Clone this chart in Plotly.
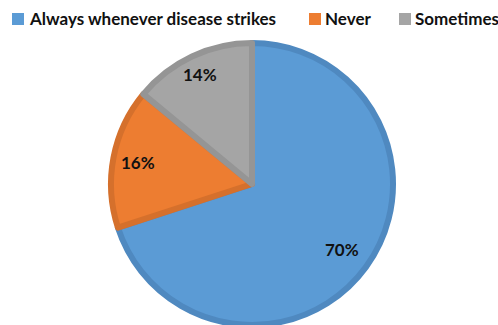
import math
import plotly.graph_objects as go

labels = ["Always whenever disease strikes", "Never", "Sometimes"]
values = [70, 16, 14]
fill_colors = ["#5B9BD5", "#ED7D31", "#A5A5A5"]
edge_colors = ["#4F89C0", "#D5702C", "#959595"]

W, H = 498, 325
cx, cy, r = 252, 184, 141
label_radius_frac = [0.79, 0.82, 0.86]

fig = go.Figure(go.Pie(
    labels=labels,
    values=values,
    sort=False,
    direction="clockwise",
    rotation=0,
    marker=dict(colors=fill_colors, line=dict(color=edge_colors, width=6)),
    textinfo="none",
    showlegend=False,
    domain=dict(x=[(cx - r) / W, (cx + r) / W], y=[0, 1 - (cy - r) / H]),
    hoverinfo="label+percent",
))

shapes = []
annotations = []

# percentage labels placed along each slice's mid-angle
total = sum(values)
cum = 0
for i, v in enumerate(values):
    mid = (cum + v / 2) / total * 2 * math.pi
    cum += v
    rr = r * label_radius_frac[i]
    px = cx + rr * math.sin(mid)
    py = cy - rr * math.cos(mid)
    annotations.append(dict(text=f"{round(v / total * 100)}%", xref="paper", yref="paper",
                            x=px / W, y=1 - py / H, xanchor="center", yanchor="middle",
                            showarrow=False,
                            font=dict(family="Lato", size=17, color="#111111", weight="bold")))

# custom legend (colored squares + text) across the top
legend_sq_x = [12, 309, 399]
legend_txt_x = [27, 323, 413]
for i, lab in enumerate(labels):
    x0 = legend_sq_x[i]
    shapes.append(dict(type="rect", xref="paper", yref="paper",
                       x0=x0 / W, x1=(x0 + 12) / W,
                       y0=1 - 25 / H, y1=1 - 13 / H,
                       fillcolor=fill_colors[i], line=dict(width=0)))
    annotations.append(dict(text=lab, xref="paper", yref="paper",
                            x=legend_txt_x[i] / W, y=1 - 19 / H,
                            xanchor="left", yanchor="middle", showarrow=False,
                            font=dict(family="Lato", size=17, color="#111111", weight="bold")))

fig.update_layout(
    width=W, height=H,
    margin=dict(l=0, r=0, t=0, b=0),
    paper_bgcolor="white",
    plot_bgcolor="white",
    shapes=shapes,
    annotations=annotations,
)

fig.write_html("out.html")
